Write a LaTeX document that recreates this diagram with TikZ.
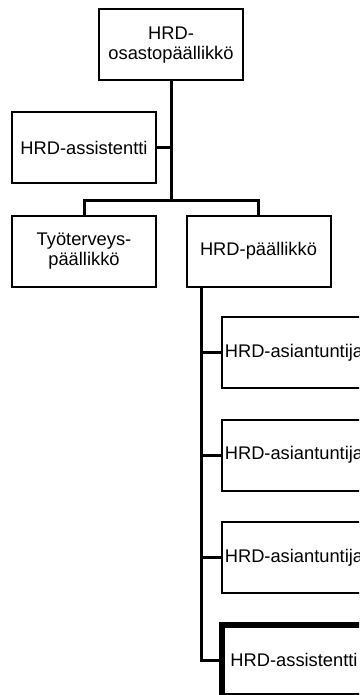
\documentclass[tikz,border=0pt]{standalone}
\usepackage{fontspec}
\setmainfont{Liberation Sans}
\begin{document}
\begin{tikzpicture}[x=1pt,y=-1pt,
  box/.style={draw=black,line width=2pt,minimum width=144pt,minimum height=71pt,inner sep=0pt,outer sep=0pt,align=center,font=\fontsize{18.3}{20.5}\selectfont},
  thickbox/.style={box,line width=6pt},
  link/.style={draw=black,line width=3pt,line cap=rect}]
\useasboundingbox (0,0) rectangle (359,695);
\fill[white] (0,0) rectangle (359,695);
\clip (0,0) rectangle (359,695);
\node[box] (top) at (171,45) {HRD-\\osastopäällikkö};
\node[box] (asst) at (84,147.5) {HRD-assistentti};
\node[box] (tyo) at (84,251) {Työterveys-\\päällikkö};
\node[box] (hrdp) at (258.5,251) {HRD-päällikkö};
\node[box] (a1) at (294,352.5) {HRD-asiantuntija};
\node[box] (a2) at (294,455) {HRD-asiantuntija};
\node[box] (a3) at (294,557.5) {HRD-asiantuntija};
\node[thickbox] (a4) at (294,660) {HRD-assistentti};
\coordinate (bar) at (171,200);
\coordinate (spine) at (201,287);
\draw[link] (top.south) -- (bar);
\draw[link] (asst.east) -- (asst.east -| top.south);
\draw[link] (tyo.north) |- (bar) -| (hrdp.north);
\draw[link,line cap=butt] (hrdp.south -| spine) -- ([yshift=1.5pt]a4.west -| spine);
\draw[link,line cap=butt] (a1.west -| spine) -- (a1.west);
\draw[link,line cap=butt] (a2.west -| spine) -- (a2.west);
\draw[link,line cap=butt] (a3.west -| spine) -- (a3.west);
\draw[link,line cap=butt] ([xshift=-1.5pt]a4.west -| spine) -- (a4.west);
\end{tikzpicture}
\end{document}
